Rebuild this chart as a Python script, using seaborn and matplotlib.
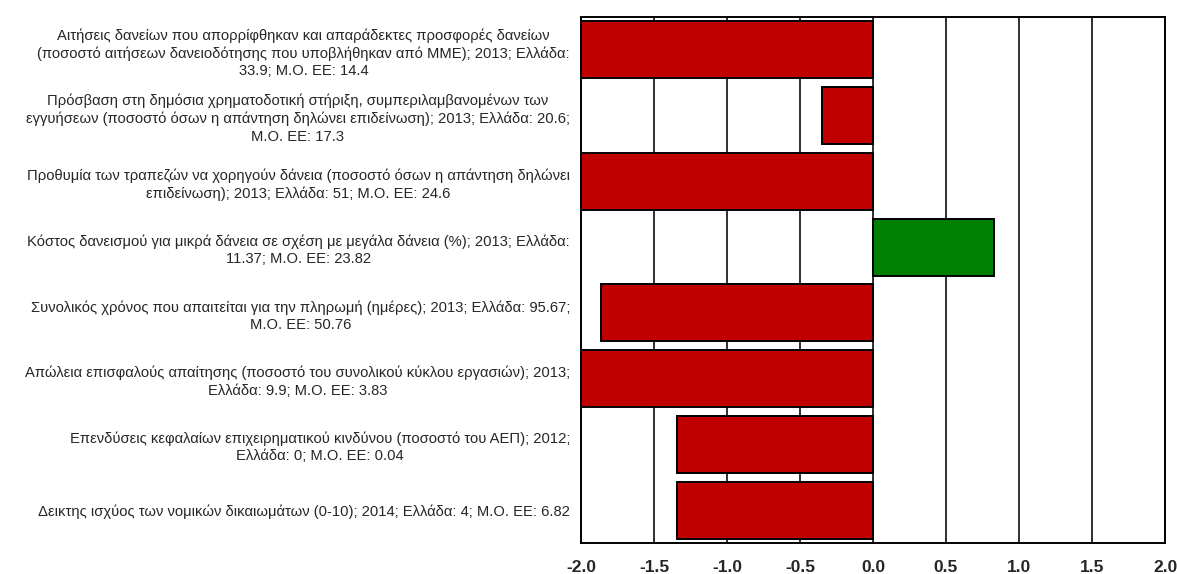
import matplotlib
matplotlib.use("Agg")
import matplotlib.pyplot as plt
import seaborn as sns
import pandas as pd

labels = [
    "Αιτήσεις δανείων που απορρίφθηκαν και απαράδεκτες προσφορές δανείων\n(ποσοστό αιτήσεων δανειοδότησης που υποβλήθηκαν από ΜΜΕ); 2013; Ελλάδα:\n33.9; Μ.Ο. ΕΕ: 14.4",
    "Πρόσβαση στη δημόσια χρηματοδοτική στήριξη, συμπεριλαμβανομένων των\nεγγυήσεων (ποσοστό όσων η απάντηση δηλώνει επιδείνωση); 2013; Ελλάδα: 20.6;\nΜ.Ο. ΕΕ: 17.3",
    "Προθυμία των τραπεζών να χορηγούν δάνεια (ποσοστό όσων η απάντηση δηλώνει\nεπιδείνωση); 2013; Ελλάδα: 51; Μ.Ο. ΕΕ: 24.6",
    "Κόστος δανεισμού για μικρά δάνεια σε σχέση με μεγάλα δάνεια (%); 2013; Ελλάδα:\n11.37; Μ.Ο. ΕΕ: 23.82",
    "Συνολικός χρόνος που απαιτείται για την πληρωμή (ημέρες); 2013; Ελλάδα: 95.67;\nΜ.Ο. ΕΕ: 50.76",
    "Απώλεια επισφαλούς απαίτησης (ποσοστό του συνολικού κύκλου εργασιών); 2013;\nΕλλάδα: 9.9; Μ.Ο. ΕΕ: 3.83",
    "Επενδύσεις κεφαλαίων επιχειρηματικού κινδύνου (ποσοστό του ΑΕΠ); 2012;\nΕλλάδα: 0; Μ.Ο. ΕΕ: 0.04",
    "Δεικτης ισχύος των νομικών δικαιωμάτων (0-10); 2014; Ελλάδα: 4; Μ.Ο. ΕΕ: 6.82",
]
values = [-2.0, -0.35, -2.0, 0.83, -1.86, -2.0, -1.34, -1.34]
bar_colors = ["#C00000", "#C00000", "#C00000", "#008000", "#C00000", "#C00000", "#C00000", "#C00000"]
xticks = [-2.0, -1.5, -1.0, -0.5, 0.0, 0.5, 1.0, 1.5, 2.0]

sns.set_theme(style="white")
plt.rcParams["font.family"] = ["Liberation Sans", "DejaVu Sans"]

df = pd.DataFrame({"label": labels, "value": values})

fig = plt.figure(figsize=(11.77, 5.74), dpi=100)
ax = fig.add_axes([581 / 1177, 1 - 543 / 574, (1165 - 581) / 1177, (543 - 17) / 574])

for xv in xticks:
    ax.axvline(xv, color="#303030", lw=1.4, zorder=0)

sns.barplot(data=df, x="value", y="label", hue="label", palette=bar_colors,
            legend=False, orient="h", width=0.87, edgecolor="black",
            linewidth=1.4, saturation=1, ax=ax, zorder=2)

ax.set_xlim(-2.0, 2.0)
ax.set_ylim(len(labels) - 0.5, -0.5)
ax.set_xticks(xticks)
ax.set_xticklabels([f"{t:.1f}" for t in xticks], fontsize=12.5, fontweight="bold")
ax.set_xlabel("")
ax.set_ylabel("")
ax.set_yticks(range(len(labels)))
ax.set_yticklabels(labels, fontsize=10.6, multialignment="center", linespacing=1.3)
ax.tick_params(axis="y", length=0, pad=8)
ax.tick_params(axis="x", length=0, pad=12)
for s in ax.spines.values():
    s.set_color("black")
    s.set_linewidth(1.4)
    s.set_visible(True)

fig.savefig("out.png", dpi=100)
